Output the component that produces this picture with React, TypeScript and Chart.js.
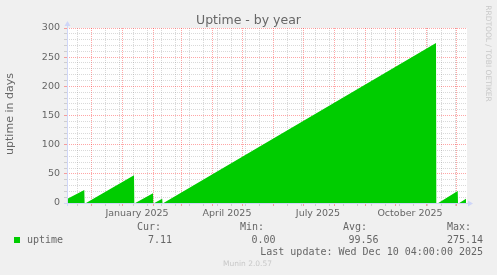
import { useEffect, useRef } from 'react';
import { Chart, registerables } from 'chart.js';

Chart.register(...registerables);

// ---- data (x = day offset from left edge of the 400-day window) ----
const uptimeDays = [0, 17.3, 17.6, 19, 67, 67.3, 68.3, 86, 86.3, 87.4, 95.2, 95.5, 96.5, 369, 369.3, 371.3, 390.7, 391, 392.3, 399];
const uptimeValues = [6.9, 22.3, 0, 0, 47.5, 0, 0, 16.6, 0, 0, 7.4, 0, 0, 274.5, 0, 0, 20.6, 0, 0, 7.11];

const minorGridDays = [10, 24, 38, 52, 66, 80, 94, 108, 122, 136, 150, 164, 178, 192, 206, 220, 234, 248, 262, 276, 290, 304, 318, 332, 346, 360, 374, 388];
const monthStartDays = [24, 55, 86, 114, 145, 175, 206, 236, 267, 298, 328, 359, 389];
const quarterLabelDays = [70, 160, 251, 343];
const quarterLabels = ['January 2025', 'April 2025', 'July 2025', 'October 2025'];

const yMin = 0;
const yMax = 300;
const yStep = 10;
const yLabelStep = 50;

const titleText = 'Uptime - by year';
const yAxisTitle = 'uptime in days';
const seriesName = 'uptime';
const statHeaders = ['Cur:', 'Min:', 'Avg:', 'Max:'];
const statValues = ['7.11', '0.00', '99.56', '275.14'];
const lastUpdate = 'Last update: Wed Dec 10 04:00:00 2025';
const footerText = 'Munin 2.0.57';
const watermark = 'RRDTOOL / TOBI OETIKER';

const GREEN = '#00cc00';
const MAJOR = 'rgba(255,0,0,0.35)';
const MINOR = 'rgba(128,128,128,0.3)';
const AXIS = '#cfd6f8';
const FONT_COLOR = '#666666';

const xTickValues = Array.from(new Set([...minorGridDays, ...monthStartDays, ...quarterLabelDays])).sort((a, b) => a - b);

function xGridColor(v: number) {
  if (monthStartDays.includes(v)) return MAJOR;
  if (minorGridDays.includes(v)) return MINOR;
  return 'rgba(0,0,0,0)';
}

const decorPlugin = {
  id: 'decor',
  beforeDraw(chart: any) {
    const { ctx, chartArea: a } = chart;
    ctx.save();
    ctx.fillStyle = '#f0f0f0';
    ctx.fillRect(0, 0, chart.width, chart.height);
    ctx.fillStyle = '#ffffff';
    ctx.fillRect(a.left, a.top, a.right - a.left, a.bottom - a.top);
    ctx.restore();
  },
  afterDraw(chart: any) {
    const { ctx, chartArea: a } = chart;
    ctx.save();
    // axes
    ctx.strokeStyle = AXIS;
    ctx.fillStyle = AXIS;
    ctx.lineWidth = 1;
    ctx.beginPath();
    ctx.moveTo(a.left - 3, a.bottom + 0.5);
    ctx.lineTo(a.right + 2, a.bottom + 0.5);
    ctx.moveTo(a.left + 0.5, a.bottom + 3);
    ctx.lineTo(a.left + 0.5, a.top - 3);
    ctx.stroke();
    ctx.beginPath();
    ctx.moveTo(a.right + 1, a.bottom - 2.5);
    ctx.lineTo(a.right + 6, a.bottom + 0.5);
    ctx.lineTo(a.right + 1, a.bottom + 3.5);
    ctx.closePath();
    ctx.fill();
    ctx.beginPath();
    ctx.moveTo(a.left - 2.5, a.top - 2);
    ctx.lineTo(a.left + 0.5, a.top - 7);
    ctx.lineTo(a.left + 3.5, a.top - 2);
    ctx.closePath();
    ctx.fill();

    // title
    ctx.fillStyle = FONT_COLOR;
    ctx.font = '12.5px "DejaVu Sans"';
    ctx.textAlign = 'center';
    ctx.textBaseline = 'alphabetic';
    ctx.fillText(titleText, 248.5, 24);

    // y axis title
    ctx.save();
    ctx.translate(10.5, 114);
    ctx.rotate(-Math.PI / 2);
    ctx.font = '11px "DejaVu Sans"';
    ctx.textAlign = 'center';
    ctx.textBaseline = 'middle';
    ctx.fillText(yAxisTitle, 0, 0);
    ctx.restore();

    // watermark
    ctx.save();
    ctx.translate(488, 53.5);
    ctx.rotate(Math.PI / 2);
    ctx.font = '7.5px "DejaVu Sans"';
    ctx.fillStyle = '#c8c8c8';
    ctx.textAlign = 'center';
    ctx.textBaseline = 'middle';
    ctx.fillText(watermark, 0, 0);
    ctx.restore();

    // legend
    ctx.fillStyle = GREEN;
    ctx.fillRect(14, 237, 6, 6);
    ctx.fillStyle = FONT_COLOR;
    ctx.font = '10px "DejaVu Sans Mono"';
    ctx.textAlign = 'left';
    ctx.textBaseline = 'alphabetic';
    ctx.fillText(seriesName, 27, 243);
    const headerX = [137, 240, 343, 447];
    const valueRight = [172, 275.5, 378.5, 483];
    statHeaders.forEach((h, i) => ctx.fillText(h, headerX[i], 230));
    ctx.textAlign = 'right';
    statValues.forEach((v, i) => ctx.fillText(v, valueRight[i], 243));
    ctx.fillText(lastUpdate, 483, 255);

    // footer
    ctx.fillStyle = '#c8c8c8';
    ctx.font = '7.5px "DejaVu Sans"';
    ctx.textAlign = 'center';
    ctx.textBaseline = 'middle';
    ctx.fillText(footerText, 247.5, 264);
    ctx.restore();
  },
};

export default function App() {
  const ref = useRef<HTMLCanvasElement>(null);
  useEffect(() => {
    const chart = new Chart(ref.current!, {
      type: 'line',
      data: {
        datasets: [
          {
            label: seriesName,
            data: uptimeDays.map((d, i) => ({ x: d, y: uptimeValues[i] })),
            fill: 'origin',
            backgroundColor: GREEN,
            borderColor: GREEN,
            borderWidth: 0,
            pointRadius: 0,
            tension: 0,
          },
        ],
      },
      options: {
        animation: false,
        responsive: false,
        devicePixelRatio: 1,
        layout: { padding: { top: 28, right: 30, left: 0, bottom: 0 } },
        plugins: { legend: { display: false }, tooltip: { enabled: false }, title: { display: false } },
        scales: {
          x: {
            type: 'linear',
            min: 0,
            max: 400,
            z: 1,
            afterBuildTicks: (s: any) => {
              s.ticks = xTickValues.map((v) => ({ value: v }));
            },
            afterFit: (s: any) => {
              s.height = 72;
            },
            border: { display: false, dash: [1, 1] },
            grid: {
              color: (c: any) => xGridColor(c.tick.value),
              tickColor: (c: any) => xGridColor(c.tick.value),
              lineWidth: 1,
              tickLength: 3,
            },
            ticks: {
              autoSkip: false,
              maxRotation: 0,
              padding: 2,
              color: FONT_COLOR,
              font: { family: 'DejaVu Sans', size: 9.5 },
              callback: (v: any) => {
                const i = quarterLabelDays.indexOf(Number(v));
                return i >= 0 ? quarterLabels[i] : '';
              },
            },
          },
          y: {
            min: yMin,
            max: yMax,
            z: 1,
            afterFit: (s: any) => {
              s.width = 67;
            },
            border: { display: false, dash: [1, 1] },
            grid: {
              color: (c: any) => (c.tick.value % yLabelStep === 0 ? MAJOR : MINOR),
              tickColor: (c: any) => (c.tick.value % yLabelStep === 0 ? MAJOR : MINOR),
              lineWidth: 1,
              tickLength: 3,
            },
            ticks: {
              stepSize: yStep,
              autoSkip: false,
              padding: 4,
              color: FONT_COLOR,
              font: { family: 'DejaVu Sans', size: 9.5 },
              callback: (v: any) => (Number(v) % yLabelStep === 0 ? String(v) : ''),
            },
          },
        },
      },
      plugins: [decorPlugin],
    });
    return () => chart.destroy();
  }, []);

  return (
    <div style={{ position: 'fixed', left: 0, top: 0, width: 497, height: 275, background: '#f0f0f0' }}>
      <canvas ref={ref} width={497} height={275} style={{ display: 'block', width: 497, height: 275 }} />
    </div>
  );
}
